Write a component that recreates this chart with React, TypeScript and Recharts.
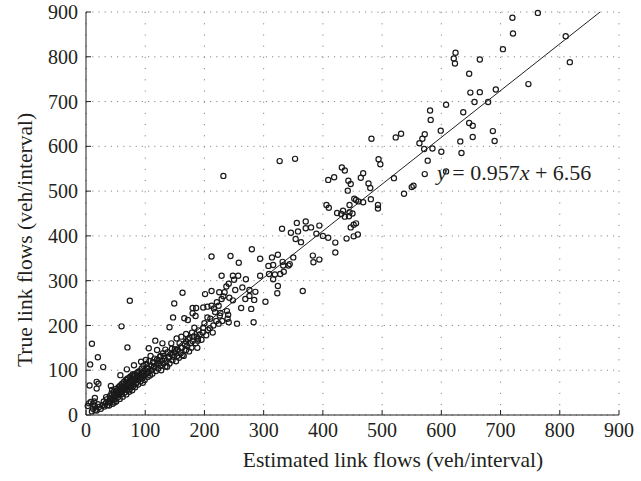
import React from "react";
import { ScatterChart, Scatter, XAxis, YAxis, CartesianGrid, ReferenceLine } from "recharts";

// [estimated, true] link flows (veh/interval), read off the figure by region
const upperFlows: [number, number][] = [
  [720, 887], [763, 898], [721, 852], [810, 846], [817, 788], [704, 817], [624, 809],
  [621, 796], [623, 785], [665, 794], [647, 762], [649, 720], [665, 721], [692, 727],
  [656, 699], [679, 699], [747, 739], [637, 676], [608, 693], [647, 652], [653, 646],
  [653, 621], [687, 634], [690, 612], [632, 611], [634, 585], [608, 544],
];

const midFlows: [number, number][] = [
  [581, 680], [582, 659], [599, 635], [482, 617], [523, 620], [532, 628], [572, 627],
  [568, 617], [563, 607], [571, 594], [585, 595], [600, 588], [577, 568], [572, 538],
  [494, 571], [497, 560], [520, 529], [432, 553], [437, 546], [409, 525], [419, 531],
  [468, 540], [464, 530], [443, 523], [447, 516], [477, 517], [480, 507], [442, 501],
  [537, 494], [550, 509], [553, 512], [406, 469], [410, 463], [424, 451], [431, 449],
  [437, 443], [434, 456], [445, 453], [450, 450], [444, 444], [445, 469], [453, 483],
  [456, 480], [460, 477], [468, 475], [481, 482], [493, 469], [493, 461], [447, 419],
  [452, 425], [456, 428], [452, 399], [459, 403], [440, 394], [394, 423], [380, 419],
  [371, 417], [371, 432], [389, 405], [400, 400], [409, 396], [421, 385], [421, 363],
  [383, 356], [384, 341], [394, 347], [366, 277],
];

const lowerMidFlows: [number, number][] = [
  [327, 567], [353, 572], [232, 534],
  [331, 416], [356, 429], [358, 410], [346, 407], [354, 393], [363, 386], [212, 354],
  [244, 355], [280, 370], [258, 340], [294, 349], [314, 352], [324, 358], [332, 342],
  [350, 352], [308, 333], [316, 335], [333, 334], [342, 334], [344, 337], [294, 311],
  [309, 315], [319, 314], [328, 315], [334, 320], [316, 303], [229, 311], [248, 311],
  [257, 311], [250, 302], [241, 293], [270, 303], [264, 285], [237, 287], [212, 277],
  [201, 270], [225, 274], [234, 274], [252, 279], [276, 279], [286, 275], [276, 266],
  [284, 257], [269, 259], [303, 253], [324, 288], [323, 272], [248, 256], [242, 262],
  [232, 265], [229, 259], [221, 252], [212, 244], [205, 242], [198, 240], [180, 239],
  [186, 239], [224, 244], [262, 239], [279, 237], [216, 238], [238, 232], [227, 228],
  [240, 224], [239, 215], [230, 210], [224, 204], [241, 207], [255, 204], [283, 207],
  [205, 218], [185, 221], [180, 227], [166, 216], [172, 212], [163, 273], [183, 195],
  [190, 189], [197, 184], [209, 194], [214, 184], [179, 184], [187, 175], [189, 166],
  [175, 172], [169, 164], [163, 134],
];

const lowFlows: [number, number][] = [
  [74, 255], [149, 249], [147, 218], [141, 196], [60, 198], [10, 159], [70, 151],
  [20, 129], [7, 113], [29, 107], [117, 166], [106, 149], [129, 160], [120, 145],
  [134, 146], [144, 160], [153, 171], [161, 175], [169, 181], [150, 147], [160, 151],
  [171, 154], [180, 165], [189, 171], [93, 119], [81, 111], [101, 123], [109, 132],
  [122, 121], [126, 132], [131, 132], [139, 130], [146, 134], [115, 108], [137, 108],
  [154, 132], [69, 102], [58, 89], [79, 91], [103, 93], [93, 84], [42, 65], [80, 65],
  [18, 74], [21, 70], [6, 66], [18, 59], [15, 38], [5, 26], [8, 29], [3, 20], [16, 12],
  [12, 24], [12, 14], [15, 20], [18, 10], [20, 24], [10, 8], [14, 30],
];

const denseBand: [number, number][] = [
  [22, 18], [25, 14], [28, 22], [30, 30], [31, 19], [33, 26], [35, 35], [36, 22],
  [38, 30], [40, 42], [40, 28], [42, 36], [43, 48], [44, 33], [45, 25], [46, 40],
  [47, 52], [48, 45], [49, 35], [50, 58], [50, 42], [51, 30], [52, 48], [53, 55],
  [54, 40], [55, 62], [55, 50], [56, 45], [57, 36], [58, 58], [58, 66], [59, 52],
  [60, 47], [60, 62], [61, 70], [62, 55], [62, 41], [63, 64], [64, 58], [64, 74],
  [65, 50], [66, 68], [67, 60], [67, 78], [68, 46], [69, 65], [70, 72], [70, 56],
  [71, 82], [72, 62], [72, 68], [73, 75], [74, 58], [75, 86], [75, 70], [76, 64],
  [77, 78], [78, 55], [79, 72], [80, 84], [80, 68], [81, 76], [82, 90], [83, 62],
  [84, 80], [85, 72], [86, 94], [87, 84], [88, 68], [89, 78], [90, 98], [90, 88],
  [92, 75], [93, 92], [94, 104], [95, 82], [96, 95], [97, 110], [98, 88], [99, 78],
  [100, 100], [101, 92], [102, 114], [104, 85], [105, 104], [106, 96], [107, 120],
  [108, 88], [110, 110], [111, 100], [112, 92], [113, 118], [115, 106], [116, 126],
  [118, 98], [119, 112], [120, 124], [122, 104], [123, 116], [125, 130], [126, 110],
  [127, 100], [128, 122], [130, 138], [131, 115], [133, 126], [134, 108], [136, 120],
  [138, 140], [140, 128], [141, 115], [143, 136], [145, 148], [146, 122], [148, 130],
  [150, 140], [152, 120], [155, 145], [157, 128], [158, 160], [160, 138], [162, 150],
  [165, 132], [167, 158], [169, 145], [172, 170], [174, 142], [176, 160], [178, 150],
  [182, 175], [185, 160], [188, 150], [192, 180], [195, 168], [198, 195], [200, 205],
  [203, 178], [206, 190], [210, 215], [215, 200], [218, 230], [220, 210], [226, 222],
  [34, 40], [39, 21], [44, 56], [48, 28], [53, 44], [57, 64], [61, 52], [66, 58],
  [69, 80], [73, 52], [78, 88], [84, 70], [88, 96], [91, 82], [96, 72], [103, 106],
];

const axisTicks = [0, 100, 200, 300, 400, 500, 600, 700, 800, 900];
// fitted line as drawn in the figure
const fitLine = [
  { x: 10, y: 3.6 },
  { x: 868, y: 900 },
];

const points = [...upperFlows, ...midFlows, ...lowerMidFlows, ...lowFlows, ...denseBand].map(
  ([est, tru]) => ({ est, tru })
);

const font = "'Liberation Serif', 'Times New Roman', serif";
const tickStyle = { fontSize: 20, fill: "#231f20", fontFamily: font };

const OpenCircle = (props: any) => (
  <circle cx={props.cx} cy={props.cy} r={2.6} fill="none" stroke="#1a1a1a" strokeWidth={1.2} />
);

export default function App() {
  return (
    <div style={{ position: "absolute", left: 0, top: 0, width: 641, height: 481, background: "#fff" }}>
      <ScatterChart width={641} height={481} margin={{ top: 12, right: 22, bottom: 0, left: 0 }}>
        <CartesianGrid vertical={false} stroke="#888" strokeDasharray="1.2 5" />
        <CartesianGrid horizontal={false} stroke="#888" strokeDasharray="1.2 10" />
        <XAxis
          type="number"
          dataKey="est"
          domain={[0, 900]}
          ticks={axisTicks}
          interval={0}
          height={66}
          stroke="#231f20"
          tickSize={-5}
          tickMargin={13}
          tick={tickStyle}
        />
        <YAxis
          type="number"
          dataKey="tru"
          domain={[0, 900]}
          ticks={axisTicks}
          interval={0}
          width={86}
          stroke="#231f20"
          tickSize={-5}
          tickMargin={13}
          tick={tickStyle}
        />
        <ReferenceLine segment={fitLine} stroke="#231f20" strokeWidth={1} />
        <Scatter data={points} shape={OpenCircle} isAnimationActive={false} />
      </ScatterChart>
      <svg
        width={641}
        height={481}
        style={{ position: "absolute", left: 0, top: 0, pointerEvents: "none" }}
        fontFamily={font}
        fill="#231f20"
      >
        <text x={393} y={467} textAnchor="middle" fontSize={21.5}>
          Estimated link flows (veh/interval)
        </text>
        <text transform="translate(32,240) rotate(-90)" textAnchor="middle" fontSize={21.5}>
          True link flows (veh/interval)
        </text>
        <text x={437} y={180} fontSize={22}>
          <tspan fontStyle="italic">y</tspan> = 0.957<tspan fontStyle="italic">x</tspan> + 6.56
        </text>
      </svg>
    </div>
  );
}
